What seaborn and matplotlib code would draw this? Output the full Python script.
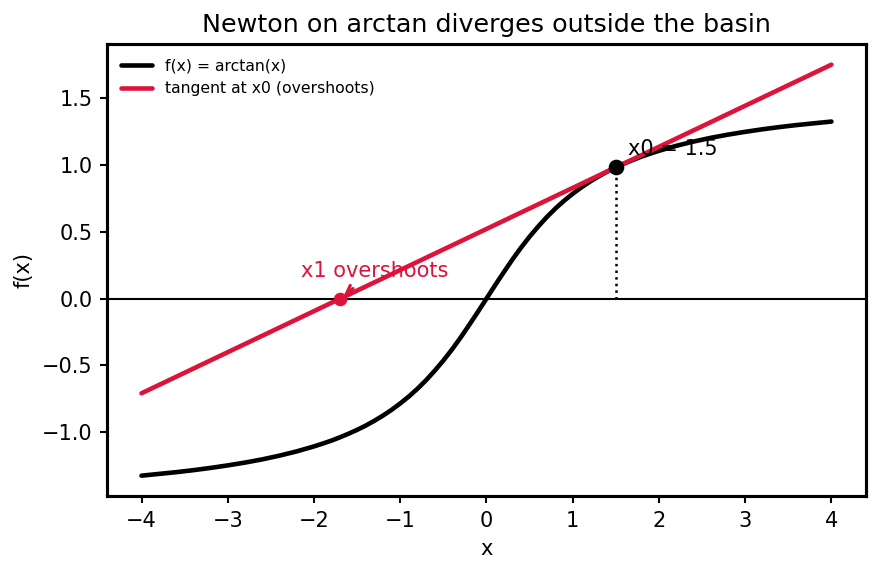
import matplotlib
matplotlib.use("Agg")
import matplotlib.pyplot as plt
import pandas as pd
import seaborn as sns

# arctan curve (finer steps around the bend)
x_curve = [-4.0, -3.8, -3.6, -3.4, -3.2, -3.0, -2.8, -2.6, -2.4, -2.2, -2.0,
           -1.9, -1.8, -1.7, -1.6, -1.5, -1.4, -1.3, -1.2, -1.1, -1.0,
           -0.9, -0.8, -0.7, -0.6, -0.5, -0.4, -0.3, -0.2, -0.1, 0.0,
           0.1, 0.2, 0.3, 0.4, 0.5, 0.6, 0.7, 0.8, 0.9, 1.0,
           1.1, 1.2, 1.3, 1.4, 1.5, 1.6, 1.7, 1.8, 1.9, 2.0,
           2.2, 2.4, 2.6, 2.8, 3.0, 3.2, 3.4, 3.6, 3.8, 4.0]
y_curve = [-1.326, -1.313, -1.300, -1.285, -1.268, -1.249, -1.228, -1.204, -1.176, -1.144, -1.107,
           -1.086, -1.064, -1.039, -1.012, -0.983, -0.951, -0.915, -0.876, -0.833, -0.785,
           -0.733, -0.675, -0.611, -0.540, -0.464, -0.381, -0.292, -0.197, -0.100, 0.0,
           0.100, 0.197, 0.292, 0.381, 0.464, 0.540, 0.611, 0.675, 0.733, 0.785,
           0.833, 0.876, 0.915, 0.951, 0.983, 1.012, 1.039, 1.064, 1.086, 1.107,
           1.144, 1.176, 1.204, 1.228, 1.249, 1.268, 1.285, 1.300, 1.313, 1.326]

# tangent line at x0 (end points)
x_tangent = [-4.0, 4.0]
y_tangent = [-0.709, 1.752]

x0, fx0 = 1.5, 0.983
x1 = -1.694

RED = "#dc143c"
DPI = 150

sns.set_theme(style="ticks", rc={"axes.linewidth": 1.5, "axes.edgecolor": "black",
                                 "xtick.color": "black", "ytick.color": "black",
                                 "axes.labelcolor": "black", "text.color": "black"})
plt.rcParams['font.family'] = ['DejaVu Sans']

curve = pd.DataFrame({"x": x_curve, "y": y_curve})
tangent = pd.DataFrame({"x": x_tangent, "y": y_tangent})

fig, ax = plt.subplots(figsize=(880 / DPI, 573 / DPI), dpi=DPI)
fig.subplots_adjust(left=0.1216, right=0.984, top=0.923, bottom=0.134)

sns.lineplot(data=curve, x="x", y="y", color="black", linewidth=2.2,
             label="f(x) = arctan(x)", ax=ax)
sns.lineplot(data=tangent, x="x", y="y", color=RED, linewidth=2.2,
             label="tangent at x0 (overshoots)", ax=ax)

ax.axhline(0, color="black", linewidth=1)
ax.plot([x0, x0], [0, fx0], color="black", linestyle=":", linewidth=1.2)
ax.plot([x0], [fx0], "o", color="black", markersize=6.5, zorder=5)
ax.plot([x1], [0], "o", color=RED, markersize=5.5, zorder=5)

ax.annotate("x0 = 1.5", xy=(x0, fx0), xytext=(6, 6), textcoords="offset points",
            fontsize=10)
ax.annotate("x1 overshoots", xy=(x1, 0), xytext=(-2.15, 0.16), color=RED,
            fontsize=10, arrowprops=dict(arrowstyle="->", color=RED, lw=1.5))

ax.set_title("Newton on arctan diverges outside the basin", fontsize=12.2)
ax.set_xlabel("x", fontsize=10)
ax.set_ylabel("f(x)", fontsize=10)
ax.tick_params(labelsize=10, width=1, length=3.5)
ax.legend(loc="upper left", frameon=False, fontsize=7.5)

fig.savefig("out.png", dpi=DPI)
